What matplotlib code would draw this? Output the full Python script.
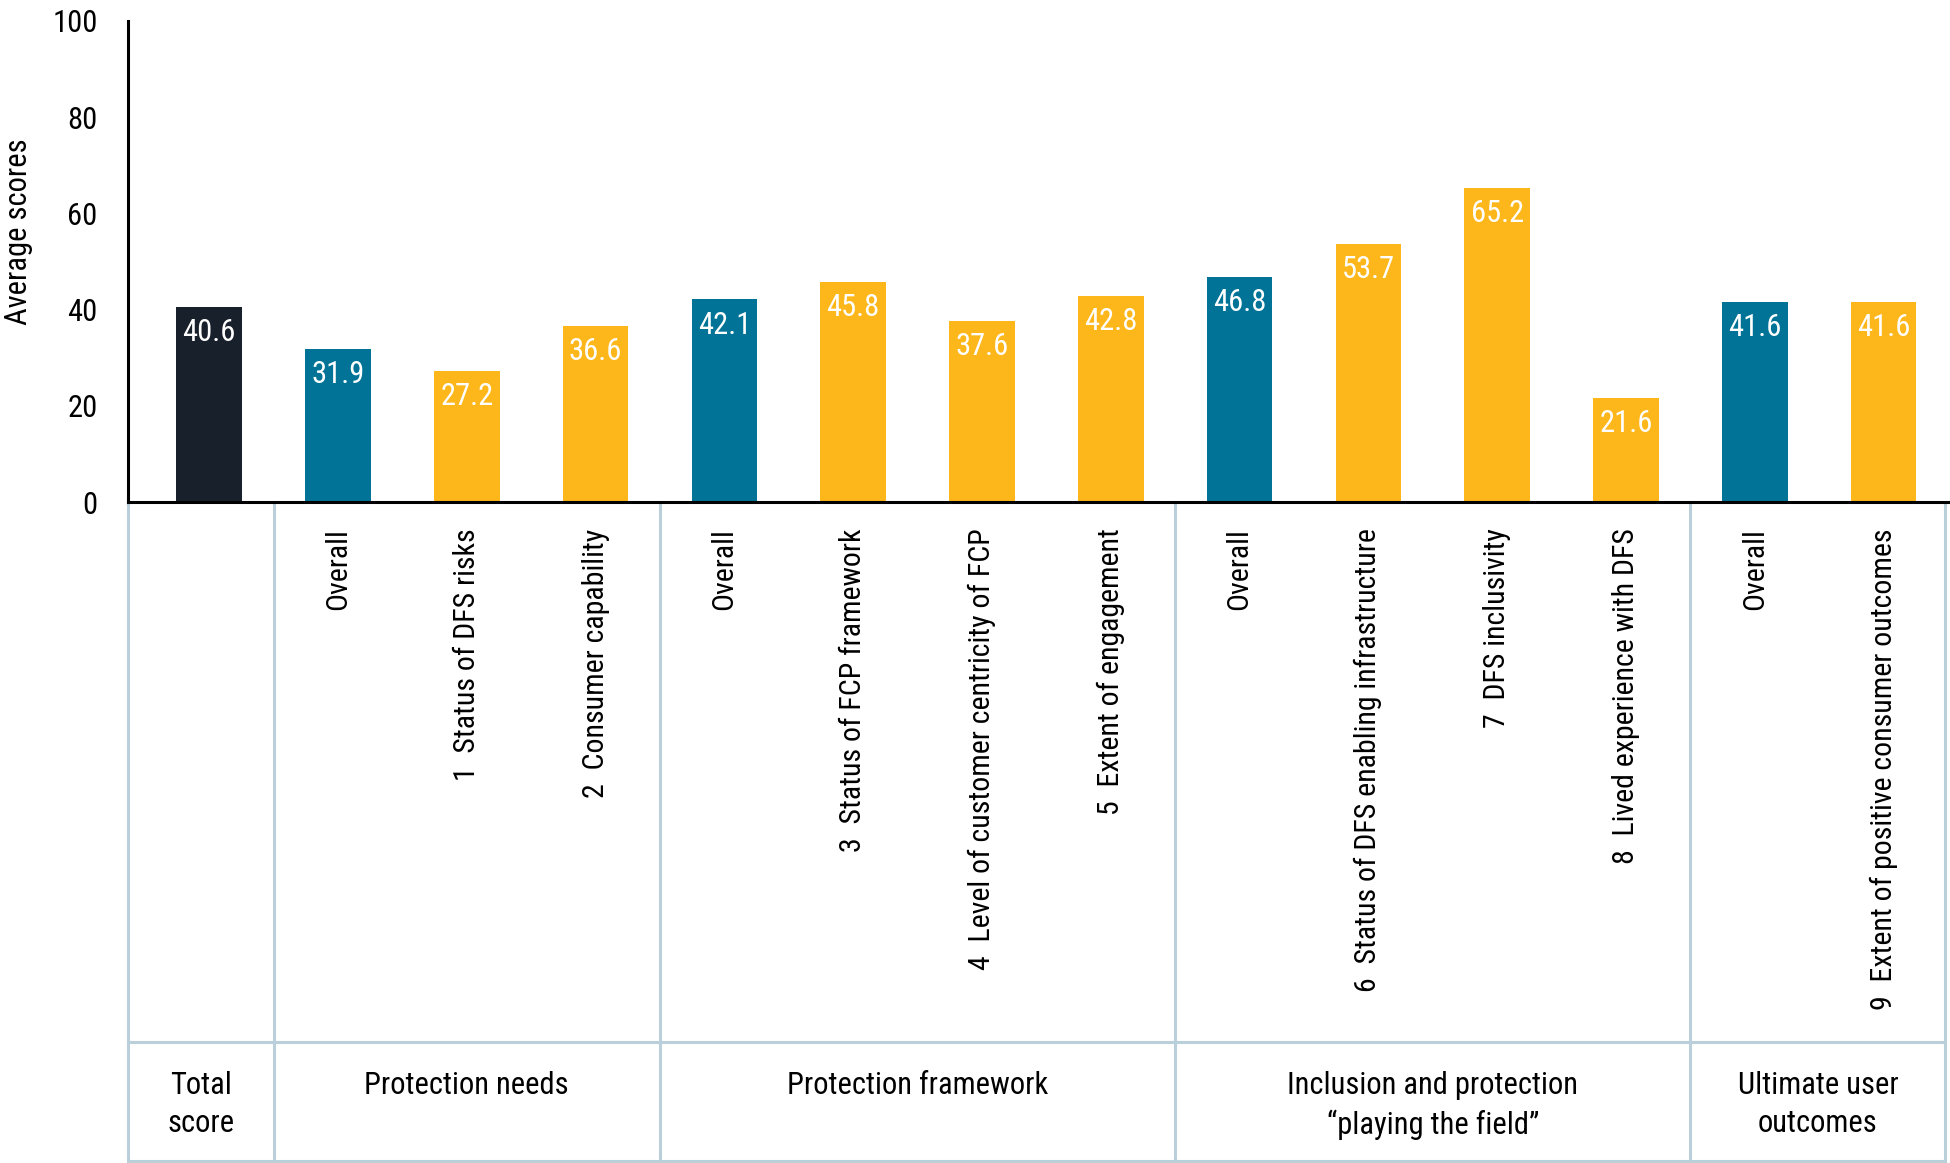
import matplotlib
matplotlib.use("Agg")
import matplotlib.pyplot as plt
from matplotlib import font_manager
import matplotlib.transforms as mtransforms

# ---- data ----
bar_labels = ["", "Overall", "1  Status of DFS risks", "2  Consumer capability",
              "Overall", "3  Status of FCP framework", "4  Level of customer centricity of FCP",
              "5  Extent of engagement", "Overall", "6  Status of DFS enabling infrastructure",
              "7  DFS inclusivity", "8  Lived experience with DFS", "Overall",
              "9  Extent of positive consumer outcomes"]
values = [40.6, 31.9, 27.2, 36.6, 42.1, 45.8, 37.6, 42.8, 46.8, 53.7, 65.2, 21.6, 41.6, 41.6]
kinds = ["total", "overall", "sub", "sub", "overall", "sub", "sub", "sub",
         "overall", "sub", "sub", "sub", "overall", "sub"]
groups = ["Total\nscore", "Protection needs", "Protection framework",
          "Inclusion and protection\n\u201cplaying the field\u201d", "Ultimate user\noutcomes"]
group_sizes = [1, 3, 4, 4, 2]
yticks = [0, 20, 40, 60, 80, 100]
ylabel = "Average scores"

colors = {"total": "#18202b", "overall": "#007396", "sub": "#fdb71a"}
line_color = "#b9cfd9"

# ---- font ----
avail = {f.name for f in font_manager.fontManager.ttflist}
font = "DejaVu Sans"
for cand in ["Roboto Condensed", "Open Sans Condensed", "Liberation Sans Narrow",
             "Noto Sans Condensed", "DejaVu Sans Condensed"]:
    if cand in avail:
        font = cand
        break
plt.rcParams["font.family"] = [font, "DejaVu Sans"]
fs = 22

fig = plt.figure(figsize=(19.5, 11.63), dpi=100)
W, H = 1950, 1163
ax_l, ax_r, ax_t, ax_b = 128, 1948, 21, 502
ax = fig.add_axes([ax_l / W, 1 - ax_b / H, (ax_r - ax_l) / W, (ax_b - ax_t) / H])

x = list(range(len(values)))
bars = ax.bar(x, values, width=0.51, color=[colors[k] for k in kinds], zorder=2)
ax.set_xlim(-0.63, 13.5)
ax.set_ylim(0, 100)
ax.set_yticks(yticks)
ax.tick_params(axis="y", length=0, pad=22, labelsize=fs)
ax.set_xticks([])
for s in ["top", "right"]:
    ax.spines[s].set_visible(False)
for s in ["left", "bottom"]:
    ax.spines[s].set_linewidth(2.2)
    ax.spines[s].set_color("black")
ax.spines["bottom"].set_zorder(3)

for xi, v in zip(x, values):
    ax.annotate(f"{v:.1f}", (xi, v), xytext=(0, -8), textcoords="offset points",
                ha="center", va="top", color="white", fontsize=fs, zorder=4)

# rotated category labels
for xi, lab in zip(x, bar_labels):
    if lab:
        ax.annotate(lab, (xi, 0), xytext=(0, -19), textcoords="offset points",
                    ha="center", va="top", rotation=90, fontsize=21.5,
                    annotation_clip=False)

# table lines
trans = mtransforms.blended_transform_factory(ax.transData, ax.transAxes)
y_top = 0.0
y_mid = (ax_b - 1042) / (ax_b - ax_t)
y_bot = (ax_b - 1161) / (ax_b - ax_t)
edges = [-0.63]
acc = 0
for n in group_sizes:
    acc += n
    edges.append(acc - 0.5)
edges[-1] = 13.5 - 0.02
for e in edges:
    ax.plot([e, e], [y_top, y_bot], transform=trans, color=line_color, lw=2.2,
            clip_on=False, zorder=1)
for yy in [y_mid, y_bot]:
    ax.plot([edges[0], edges[-1]], [yy, yy], transform=trans, color=line_color, lw=2.2,
            clip_on=False, zorder=1)

y_grp = (ax_b - 1071) / (ax_b - ax_t)
for i, g in enumerate(groups):
    cx = (edges[i] + edges[i + 1]) / 2
    ax.text(cx, y_grp, g, transform=trans, ha="center", va="top", fontsize=fs,
            linespacing=1.4)

fig.text(19 / W, 1 - 232 / H, ylabel, rotation=90, ha="center", va="center", fontsize=fs)

fig.savefig("out.png", dpi=100)
